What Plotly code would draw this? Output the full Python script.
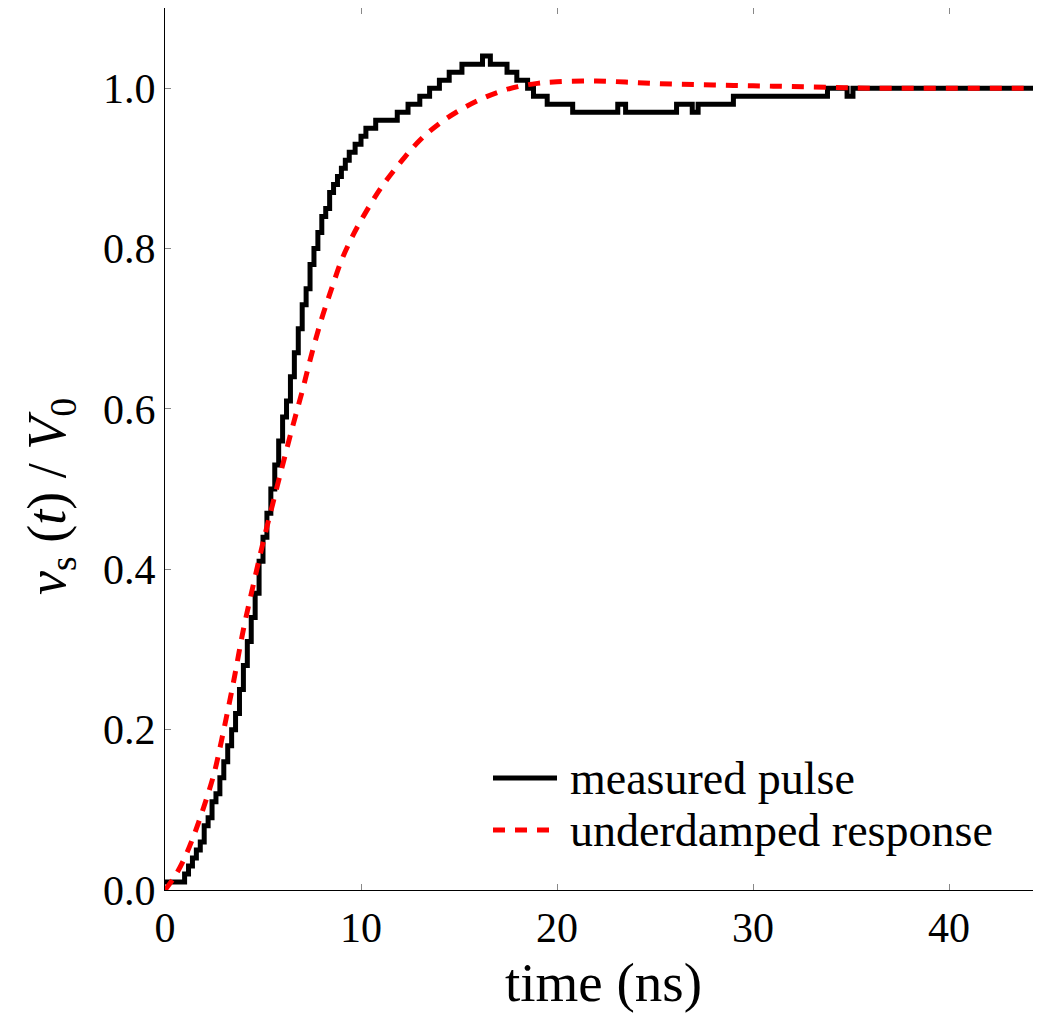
import plotly.graph_objects as go

# ---------------- data ----------------
# measured pulse (step plot, value holds until next time)
t_meas = [0.0, 1.0, 1.2, 1.4, 1.6, 1.8, 2.0, 2.2, 2.4, 2.6, 2.8, 3.0, 3.2, 3.4, 3.6, 3.8,
          4.0, 4.2, 4.4, 4.6, 4.8, 5.0, 5.2, 5.4, 5.6, 5.8, 6.0, 6.2, 6.4, 6.6, 6.8, 7.0,
          7.2, 7.4, 7.6, 7.8, 8.0, 8.2, 8.4, 8.6, 8.8, 9.0, 9.2, 9.4, 9.7, 10.0, 10.25,
          10.75, 11.85, 12.4, 13.0, 13.5, 14.0, 14.5, 15.15, 16.2, 16.6, 17.45, 17.95,
          18.5, 18.8, 19.5, 20.8, 23.1, 23.5, 26.1, 26.9, 27.2, 29.0, 33.8, 34.8, 35.1, 45.0]
v_meas = [0.01, 0.02, 0.03, 0.04, 0.05, 0.06, 0.08, 0.09, 0.11, 0.12, 0.14, 0.16, 0.18, 0.20,
          0.22, 0.25, 0.28, 0.31, 0.34, 0.37, 0.41, 0.44, 0.47, 0.50, 0.53, 0.56, 0.59, 0.61,
          0.64, 0.67, 0.70, 0.73, 0.75, 0.78, 0.80, 0.82, 0.84, 0.85, 0.87, 0.88, 0.89, 0.90,
          0.91, 0.92, 0.93, 0.94, 0.95, 0.96, 0.97, 0.98, 0.99, 1.00, 1.01, 1.02, 1.03, 1.04,
          1.03, 1.02, 1.01, 1.00, 0.99, 0.98, 0.97, 0.98, 0.97, 0.98, 0.97, 0.98, 0.99, 1.00,
          0.99, 1.00, 1.00]

# underdamped response
t_model = [0, 0.5, 1, 1.5, 2, 2.5, 3, 3.5, 4, 4.5, 5, 5.5, 6, 6.5, 7, 7.5, 8, 8.5, 9, 9.5,
           10, 11, 12, 13, 14, 15, 16, 17, 18, 19, 20, 22, 24, 26, 28, 30, 32, 34, 36, 40, 45]
v_model = [0.0, 0.017, 0.04, 0.07, 0.105, 0.145, 0.2, 0.26, 0.325, 0.38, 0.433, 0.482, 0.53,
           0.577, 0.622, 0.67, 0.713, 0.75, 0.785, 0.812, 0.835, 0.875, 0.907, 0.935, 0.956,
           0.972, 0.985, 0.995, 1.002, 1.006, 1.008, 1.009, 1.007, 1.005, 1.004, 1.003,
           1.002, 1.001, 1.0, 1.0, 1.0]

x_ticks = [0, 10, 20, 30, 40]
y_ticks = [0.0, 0.2, 0.4, 0.6, 0.8, 1.0]
legend_names = ["measured pulse", "underdamped response"]

# ---------------- figure ----------------
FONT = "Liberation Serif"
OFF = 8                      # page body margin offset
W, H = 1041 - OFF, 1013 - OFF
L, R, T = 165 - OFF, 0, 8 - OFF
B = H - (890 - OFF)
PX_PER_NS = 19.6

fig = go.Figure()
fig.add_trace(go.Scatter(x=t_meas, y=v_meas, mode="lines", name=legend_names[0],
                         line=dict(color="black", width=5, shape="hv"), showlegend=False))
fig.add_trace(go.Scatter(x=t_model, y=v_model, mode="lines", name=legend_names[1],
                         line=dict(color="#ff0000", width=5, dash="12px,10px", shape="spline"),
                         showlegend=False))

axis_common = dict(showgrid=False, zeroline=False, showline=True, linecolor="black",
                   linewidth=1.2, ticks="inside", ticklen=6, tickwidth=1, tickcolor="#888888",
                   mirror="ticks", tickfont=dict(family=FONT, size=42, color="black"))

pw, ph = W - L - R, H - T - B
fig.update_xaxes(range=[0, pw / PX_PER_NS], tickvals=x_ticks,
                 ticktext=[str(v) for v in x_ticks], **axis_common)
fig.update_yaxes(range=[0, 1.1], tickvals=y_ticks,
                 ticktext=[f"{v:.1f}" for v in y_ticks], **axis_common)

# helpers: reference-image pixel -> paper coords
def px(xp):
    return (xp - OFF - L) / pw
def py(yp):
    return (890 - yp) / ph

# legend drawn manually
leg_rows = [(778, "black", "solid"), (830, "#ff0000", "12px,10px")]
for (yy, col, dash), name in zip(leg_rows, legend_names):
    fig.add_shape(type="line", xref="paper", yref="paper", x0=px(493), x1=px(557),
                  y0=py(yy), y1=py(yy), line=dict(color=col, width=5, dash=dash))
    fig.add_annotation(x=px(568), y=py(yy), xref="paper", yref="paper", text=name,
                       showarrow=False, xanchor="left", yanchor="middle",
                       font=dict(family=FONT, size=46, color="black"))

# axis titles
fig.add_annotation(x=px(603), y=py(982), xref="paper", yref="paper", text="time (ns)",
                   showarrow=False, xanchor="center", yanchor="middle",
                   font=dict(family=FONT, size=55, color="black"))
fig.add_annotation(x=px(50), y=py(497), xref="paper", yref="paper",
                   text="<i>v</i><sub>s</sub> (<i>t</i>) / <i>V</i><sub>0</sub>",
                   showarrow=False, textangle=-90, xanchor="center", yanchor="middle",
                   font=dict(family=FONT, size=54, color="black"))

fig.update_layout(width=W, height=H, margin=dict(l=L, r=R, t=T, b=B),
                  paper_bgcolor="white", plot_bgcolor="white")

fig.write_html("out.html")
